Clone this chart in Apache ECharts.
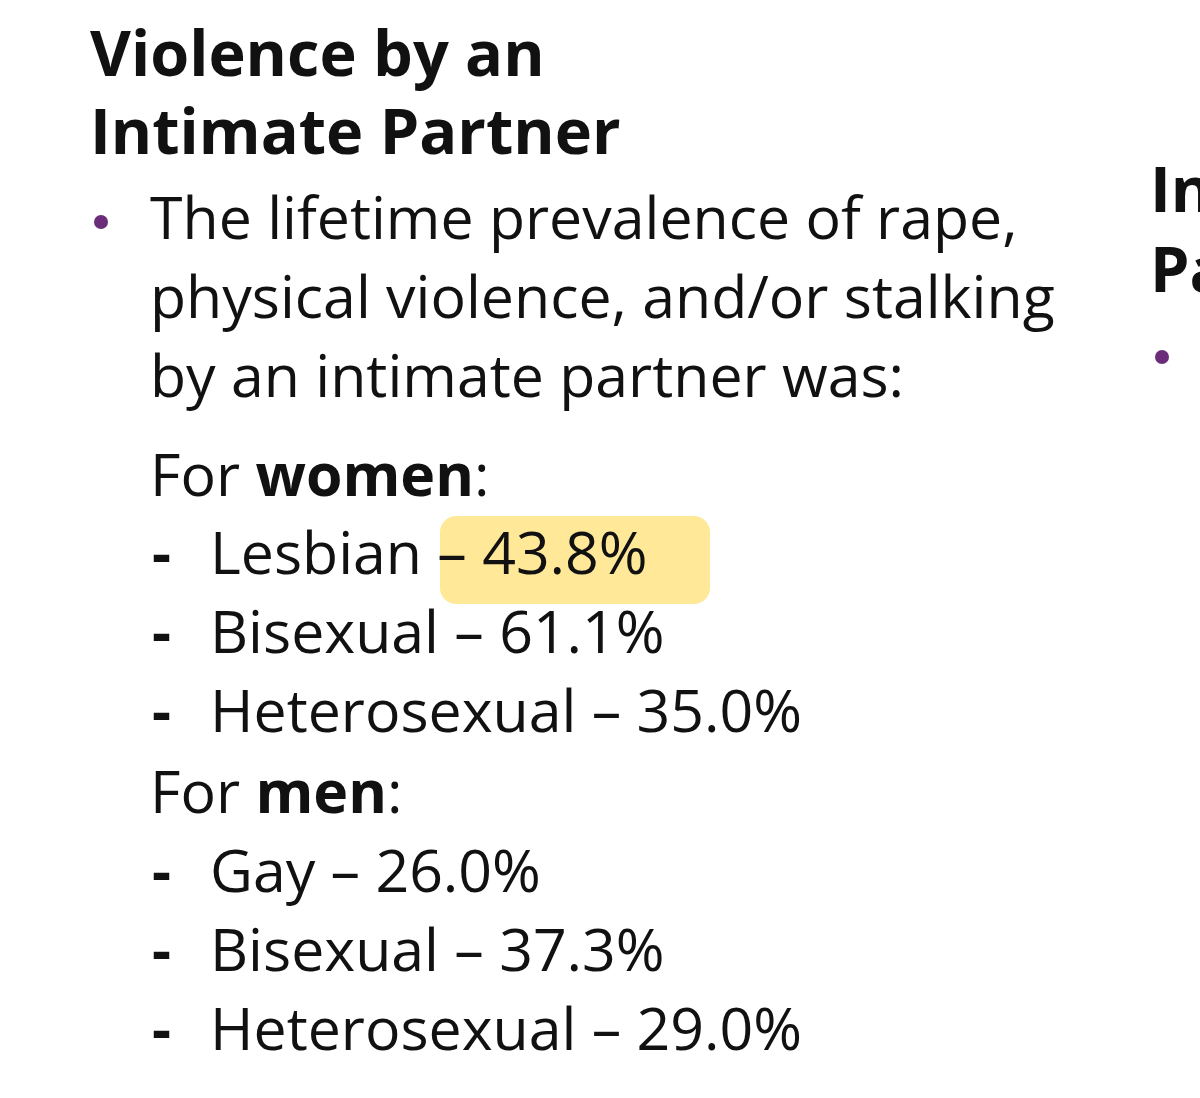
<!DOCTYPE html>
<html><head><meta charset="utf-8">
<script src="https://cdn.jsdelivr.net/npm/echarts@6/dist/echarts.min.js"></script>
<style>html,body{margin:0;padding:0;background:#fff}#c{width:1200px;height:1098px}</style>
</head><body><div id="c"></div>
<script>
const titleLines = ["Violence by an", "Intimate Partner"];
const introLines = ["The lifetime prevalence of rape,", "physical violence, and/or stalking", "by an intimate partner was:"];
const womenLabels = ["Lesbian", "Bisexual", "Heterosexual"];
const womenValues = [43.8, 61.1, 35.0];
const menLabels = ["Gay", "Bisexual", "Heterosexual"];
const menValues = [26.0, 37.3, 29.0];
const sideTitle = ["In", "Pa"];

const FONT = "'Open Sans', 'Noto Sans', sans-serif";
const SIZE = 59;
const g = [];
const txt = (x, y, text, opt = {}) => g.push({type: 'text', z: 10,
  style: {x, y, text, font: `${opt.bold ? 'bold ' : ''}${opt.size || SIZE}px ${FONT}`, fill: '#111', verticalAlign: 'middle', textVerticalAlign: 'middle'}});
const richHdr = (x, y, a) => g.push({type: 'text', z: 10, style: {x, y, verticalAlign: 'middle', textVerticalAlign: 'middle',
  text: `{n|For }{b|${a}}{n|:}`, rich: {n: {font: `${SIZE}px ${FONT}`, fill: '#111'}, b: {font: `bold ${SIZE}px ${FONT}`, fill: '#111'}}}});

titleLines.forEach((t, i) => txt(90, 58 + i * 78, t, {bold: true, size: 63}));
g.push({type: 'circle', shape: {cx: 101, cy: 222, r: 7}, style: {fill: '#6b2c7a'}});
introLines.forEach((t, i) => txt(150, 222 + i * 79, t));
richHdr(150, 479, 'women');
const item = (label, v, y) => {
  txt(152, y, '-', {bold: true});
  txt(210, y, `${label} – ${v.toFixed(1)}%`);
};
womenLabels.forEach((l, i) => item(l, womenValues[i], 557 + i * 79));
richHdr(150, 796, 'men');
menLabels.forEach((l, i) => item(l, menValues[i], 875 + i * 79));
g.push({type: 'rect', z: 5, shape: {x: 440, y: 516, width: 270, height: 88, r: 16}, style: {fill: 'rgba(255,215,70,0.55)'}});
sideTitle.forEach((t, i) => txt(1150, 194 + i * 80, t, {bold: true, size: 63}));
g.push({type: 'circle', shape: {cx: 1162, cy: 357, r: 7}, style: {fill: '#6b2c7a'}});

const chart = echarts.init(document.getElementById('c'));
chart.setOption({backgroundColor: '#fff', graphic: g});
</script></body></html>
